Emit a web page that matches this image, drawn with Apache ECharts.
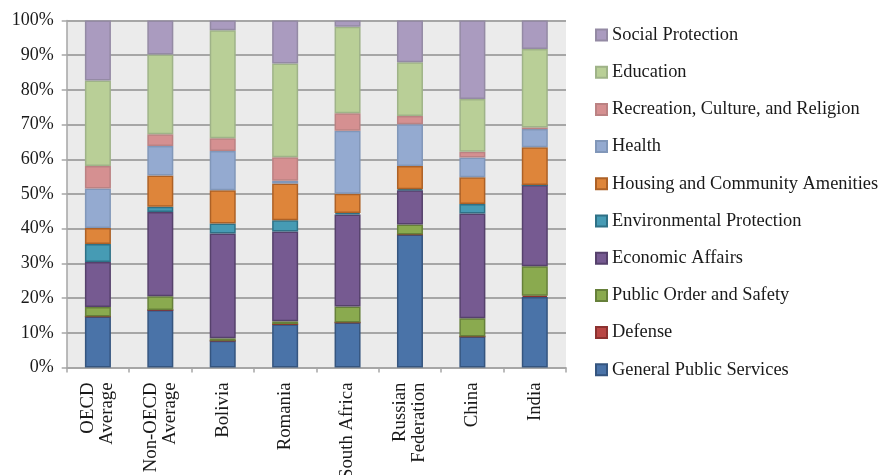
<!DOCTYPE html>
<html>
<head>
<meta charset="utf-8">
<script src="https://cdn.jsdelivr.net/npm/echarts@6/dist/echarts.min.js"></script>
<style>
  html, body { margin: 0; padding: 0; background: #ffffff; }
  #chart { width: 880px; height: 475px; }
</style>
</head>
<body>
<div id="chart"></div>
<script>
// Share of government spending by function (percent of total)
const categories = ['OECD\nAverage', 'Non-OECD\nAverage', 'Bolivia', 'Romania', 'South Africa', 'Russian\nFederation', 'China', 'India'];

const generalPublicServices = [14.7, 16.6, 7.7, 12.5, 13.0, 38.3, 8.9, 20.3];
const defense               = [0.0, 0.0, 0.0, 0.0, 0.0, 0.0, 0.0, 0.4];
const publicOrderSafety     = [2.7, 3.9, 0.7, 0.8, 4.6, 2.9, 5.3, 8.5];
const economicAffairs       = [13.0, 24.3, 30.2, 25.9, 26.5, 9.9, 30.2, 23.4];
const environmental         = [5.2, 1.5, 2.9, 3.2, 0.4, 0.3, 2.7, 0.0];
const housingCommunity      = [4.6, 9.0, 9.6, 10.6, 5.6, 6.7, 7.7, 10.9];
const health                = [11.4, 8.5, 11.3, 0.8, 18.1, 12.0, 5.7, 5.2];
const recreationCulture     = [6.5, 3.4, 3.7, 6.8, 5.1, 2.4, 1.7, 0.5];
const education             = [24.6, 23.0, 31.1, 27.0, 24.9, 15.5, 15.2, 22.6];
const socialProtection      = [17.3, 9.8, 2.8, 12.4, 1.8, 12.0, 22.6, 8.2];

const yTicks = [0, 10, 20, 30, 40, 50, 60, 70, 80, 90, 100];

// Stack order, bottom to top
const seriesDefs = [
  { name: 'General Public Services', data: generalPublicServices, fill: '#4a73a8', edge: '#35557f' },
  { name: 'Defense', data: defense, fill: '#b94644', edge: '#8c3230' },
  { name: 'Public Order and Safety', data: publicOrderSafety, fill: '#8aaa4f', edge: '#66803a' },
  { name: 'Economic Affairs', data: economicAffairs, fill: '#765a91', edge: '#56416c' },
  { name: 'Environmental Protection', data: environmental, fill: '#469bb4', edge: '#2f7186' },
  { name: 'Housing and Community Amenities', data: housingCommunity, fill: '#de853a', edge: '#ad6126' },
  { name: 'Health', data: health, fill: '#94aad0', edge: '#8197b9' },
  { name: 'Recreation, Culture, and Religion', data: recreationCulture, fill: '#d59091', edge: '#bb8283' },
  { name: 'Education', data: education, fill: '#b9cf97', edge: '#9fb388' },
  { name: 'Social Protection', data: socialProtection, fill: '#aa9bbf', edge: '#948aa4' }
];

const serif = 'Liberation Serif';
const textColor = '#1a1a1a';

const chart = echarts.init(document.getElementById('chart'), null, { renderer: 'canvas' });

chart.setOption({
  animation: false,
  backgroundColor: '#ffffff',
  grid: {
    left: 66.7, right: 314, top: 20.5, bottom: 107.5,
    containLabel: false,
    outerBoundsMode: 'none',
    show: true, backgroundColor: '#ebebeb', borderWidth: 0
  },
  legend: {
    orient: 'vertical',
    left: 595, top: 26,
    padding: 0,
    icon: 'rect',
    itemWidth: 11, itemHeight: 11,
    itemGap: 19.2,
    data: seriesDefs.map(s => s.name).reverse(),
    textStyle: { fontFamily: serif, fontSize: 18.4, color: textColor }
  },
  xAxis: {
    type: 'category',
    data: categories,
    axisLine: { lineStyle: { color: '#a6a6a6', width: 1.5 } },
    axisTick: { show: true, length: 5, lineStyle: { color: '#a6a6a6', width: 1.5 } },
    axisLabel: {
      interval: 0, rotate: 90, margin: 15,
      fontFamily: serif, fontSize: 18.8, lineHeight: 19, color: textColor
    },
    splitLine: { show: false }
  },
  yAxis: {
    type: 'value',
    min: yTicks[0], max: yTicks[yTicks.length - 1], interval: 10,
    axisLine: { show: true, lineStyle: { color: '#a6a6a6', width: 1.5 } },
    axisTick: { show: true, length: 5, lineStyle: { color: '#a6a6a6', width: 1.5 } },
    axisLabel: {
      formatter: '{value}%', margin: 13,
      fontFamily: serif, fontSize: 18, color: textColor
    },
    splitLine: { show: true, lineStyle: { color: '#a6a6a6', width: 1.8 } }
  },
  series: seriesDefs.map(s => ({
    name: s.name,
    type: 'bar',
    stack: 'total',
    barWidth: 26,
    data: s.data,
    itemStyle: { color: s.fill, borderColor: s.edge, borderWidth: 1.5 }
  }))
});
</script>
</body>
</html>
